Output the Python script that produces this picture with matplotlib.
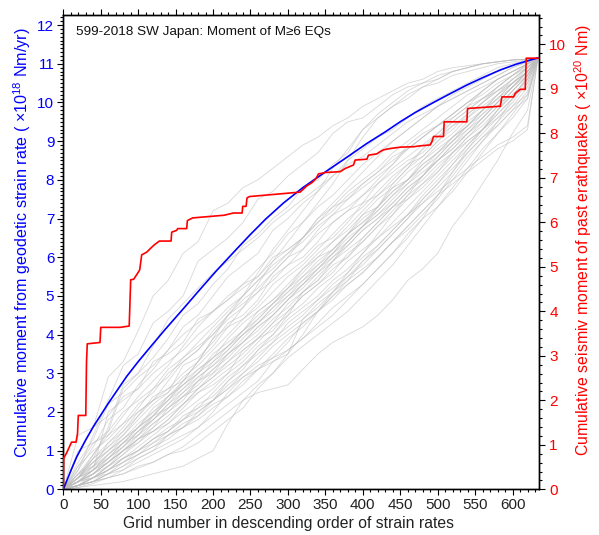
import matplotlib
matplotlib.use("Agg")
import matplotlib.pyplot as plt
from matplotlib.ticker import MultipleLocator

plt.rcParams['font.family'] = ['Liberation Sans', 'DejaVu Sans']
plt.rcParams['mathtext.default'] = 'regular'

# ---------------- data ----------------
# blue: cumulative moment from geodetic strain rate (x10^18 Nm/yr)
blue_x = [0, 5, 10, 17.9, 30, 40.1, 60, 84.7, 100, 115.9, 135.9, 160.4, 180,
          205, 230, 249.5, 270, 294, 320, 349.7, 380, 405.4, 430, 449.9, 470,
          494.5, 515, 539, 560, 583.6, 605, 628, 634]
blue_y = [0, 0.24, 0.48, 0.84, 1.28, 1.62, 2.22, 2.92, 3.30, 3.67, 4.13, 4.67,
          5.11, 5.66, 6.18, 6.58, 6.98, 7.40, 7.80, 8.20, 8.60, 8.94, 9.24,
          9.50, 9.74, 10.00, 10.21, 10.45, 10.64, 10.84, 10.99, 11.12, 11.15]

# red: cumulative seismic moment of past earthquakes (x10^20 Nm)
red_x = [0, 0.5, 4.5, 11, 17, 19, 20, 30, 31, 32, 49, 50, 76, 88, 90, 94, 102,
         104.7, 111.4, 118.0, 121.2, 128.3, 143.9, 144.8, 151.4, 152.8, 164.8,
         165.7, 172.8, 214.7, 227.2, 238.8, 239.6, 244.1, 245.4, 248.6, 316.3,
         320.8, 325.2, 331.9, 337.7, 340.8, 344.4, 349.7, 369.8, 376.4, 387.6,
         389.8, 405.4, 407.6, 418.8, 423.2, 427.7, 436.6, 450.0, 467.7, 476.7,
         490.0, 492.2, 494.5, 507.8, 508.7, 539.0, 539.9, 583.6, 585.8, 601.4,
         603.6, 610.3, 617.0, 618.3, 634]
red_y = [0, 0.70, 0.82, 1.06, 1.06, 1.26, 1.66, 1.66, 2.87, 3.27, 3.30, 3.64,
         3.64, 3.67, 4.71, 4.72, 4.93, 5.27, 5.33, 5.44, 5.49, 5.58, 5.58, 5.78,
         5.82, 5.86, 5.86, 6.04, 6.10, 6.16, 6.21, 6.21, 6.36, 6.36, 6.55, 6.58,
         6.68, 6.75, 6.82, 6.89, 6.99, 7.09, 7.10, 7.12, 7.14, 7.21, 7.29, 7.40,
         7.42, 7.51, 7.54, 7.59, 7.63, 7.66, 7.69, 7.70, 7.72, 7.74, 7.81, 7.93,
         7.93, 8.26, 8.26, 8.56, 8.61, 8.82, 8.82, 8.90, 8.99, 8.99, 9.69, 9.69]

# grey: randomized cumulative curves (x10^18 Nm/yr), sampled on grey_x
grey_x = [0, 20, 40, 60, 80, 100, 120, 140, 160, 180, 200,
          220, 240, 260, 280, 300, 320, 340, 360, 380, 400, 420,
          440, 460, 480, 500, 520, 540, 560, 580, 600, 620, 634]
grey_lines = [
    [0, 0.9, 1.6, 2.9, 3.3, 4.1, 5.0, 5.4, 6.1, 6.4, 7.2,
     7.4, 7.8, 8.0, 8.3, 8.6, 8.9, 9.1, 9.4, 9.6, 9.9, 10.1,
     10.3, 10.5, 10.6, 10.8, 10.9, 10.95, 11.0, 11.05, 11.1, 11.12, 11.15],
    [0, 0.5, 1.4, 2.3, 3.2, 3.5, 4.3, 4.6, 5.0, 5.9, 6.2,
     6.5, 6.9, 7.5, 7.7, 8.1, 8.4, 8.7, 9.2, 9.5, 9.6, 9.9,
     10.2, 10.4, 10.5, 10.6, 10.8, 10.9, 11.0, 11.05, 11.1, 11.12, 11.15],
    [0, 0.3, 0.9, 1.5, 2.6, 3.0, 3.4, 3.9, 4.5, 4.8, 5.3,
     5.7, 6.3, 6.6, 7.0, 7.3, 7.8, 8.0, 8.4, 8.7, 9.3, 9.6,
     9.9, 10.1, 10.4, 10.5, 10.7, 10.8, 10.9, 11.0, 11.05, 11.1, 11.15],
    [0, 1.4, 1.6, 1.9, 2.4, 2.6, 3.3, 3.5, 3.8, 4.4, 4.6,
     4.9, 5.3, 5.5, 6.0, 6.2, 6.5, 7.0, 7.3, 7.5, 7.9, 8.2,
     8.6, 8.8, 9.1, 9.4, 9.6, 9.9, 10.1, 10.3, 10.6, 10.9, 11.15],
    [0, 0.2, 0.5, 0.9, 1.3, 1.6, 1.9, 2.4, 2.7, 3.0, 3.5,
     3.8, 4.1, 4.6, 4.9, 5.2, 5.7, 6.0, 6.2, 6.6, 7.1, 7.3,
     7.8, 8.0, 8.5, 8.8, 9.1, 9.5, 9.8, 10.2, 10.5, 10.9, 11.15],
    [0, 0.1, 0.2, 0.4, 0.5, 0.7, 0.9, 1.1, 1.3, 1.6, 2.0,
     2.5, 2.9, 3.2, 3.4, 3.8, 4.3, 4.6, 5.0, 5.4, 5.9, 6.2,
     6.6, 7.0, 7.5, 7.9, 8.4, 8.8, 9.2, 9.6, 10.0, 10.5, 11.15],
    [0, 0.05, 0.1, 0.15, 0.2, 0.3, 0.4, 0.5, 0.6, 0.8, 1.0,
     1.7, 2.3, 2.5, 2.6, 2.7, 3.1, 3.5, 3.8, 4.0, 4.2, 4.5,
     4.9, 5.4, 5.7, 6.1, 6.8, 7.3, 7.9, 8.5, 9.2, 9.8, 11.15],
    [0, 0.2, 0.4, 0.7, 1.0, 1.2, 1.5, 1.8, 2.2, 2.5, 2.8,
     3.1, 3.4, 3.8, 4.2, 4.5, 4.8, 5.2, 5.5, 5.9, 6.2, 6.5,
     6.8, 7.1, 7.4, 7.7, 8.0, 8.3, 8.6, 8.9, 9.1, 9.4, 11.15],
    [0, 0.4, 0.6, 1.2, 1.5, 2.0, 2.3, 2.5, 3.2, 3.4, 3.8,
     4.3, 4.5, 4.9, 5.5, 5.8, 6.0, 6.4, 6.9, 7.2, 7.4, 7.9,
     8.2, 8.5, 8.7, 9.1, 9.4, 9.6, 10.0, 10.3, 10.5, 10.8, 11.15],
    [0, 0.1, 0.3, 0.6, 0.9, 1.3, 1.5, 1.7, 2.1, 2.5, 2.7,
     3.0, 3.6, 3.9, 4.1, 4.6, 5.0, 5.3, 5.6, 6.1, 6.4, 6.8,
     7.2, 7.6, 7.9, 8.2, 8.7, 9.1, 9.4, 9.8, 10.2, 10.6, 11.15],
    [0, 0.3, 0.8, 1.1, 1.4, 1.9, 2.4, 2.6, 3.0, 3.3, 3.9,
     4.2, 4.4, 4.8, 5.3, 5.6, 5.9, 6.3, 6.5, 6.9, 7.4, 7.6,
     8.0, 8.4, 8.6, 9.0, 9.3, 9.7, 10.0, 10.4, 10.7, 11.0, 11.15],
    [0, 0.1, 0.2, 0.3, 0.5, 0.8, 1.0, 1.4, 1.6, 1.9, 2.3,
     2.8, 3.1, 3.6, 4.0, 4.5, 5.1, 5.4, 5.9, 6.4, 6.8, 7.3,
     7.9, 8.3, 8.8, 9.2, 9.6, 9.9, 10.3, 10.6, 10.8, 11.0, 11.15],
    [0, 0.6, 1.0, 1.3, 1.7, 2.2, 2.5, 3.0, 3.3, 3.6, 4.1,
     4.5, 4.8, 5.1, 5.6, 6.0, 6.2, 6.7, 7.1, 7.3, 7.6, 8.0,
     8.4, 8.9, 9.2, 9.4, 9.7, 10.0, 10.2, 10.5, 10.7, 10.9, 11.15],
    [0, 0.2, 0.4, 0.8, 1.2, 1.4, 1.7, 2.0, 2.3, 2.8, 3.0,
     3.3, 3.7, 4.0, 4.4, 4.7, 5.1, 5.4, 5.8, 6.0, 6.5, 6.9,
     7.3, 7.5, 7.8, 8.2, 8.6, 9.0, 9.3, 9.7, 10.1, 10.5, 11.15],
    [0, 0.1, 0.3, 0.4, 0.7, 0.9, 1.2, 1.4, 1.7, 1.9, 2.2,
     2.4, 2.7, 3.1, 3.3, 3.6, 3.9, 4.3, 4.7, 5.0, 5.3, 5.7,
     6.1, 6.6, 7.0, 7.3, 7.7, 8.2, 8.7, 9.2, 9.6, 10.1, 11.15],
    [0, 0.5, 1.1, 1.8, 2.1, 2.7, 3.1, 3.6, 4.2, 4.5, 5.0,
     5.5, 5.8, 6.1, 6.7, 7.0, 7.4, 7.7, 8.1, 8.5, 8.8, 9.1,
     9.3, 9.6, 9.9, 10.1, 10.3, 10.5, 10.7, 10.9, 11.0, 11.1, 11.15],
    [0, 0.2, 0.6, 0.8, 1.1, 1.5, 1.8, 2.2, 2.6, 2.9, 3.2,
     3.6, 4.0, 4.3, 4.7, 5.0, 5.4, 5.8, 6.1, 6.6, 6.9, 7.2,
     7.6, 8.0, 8.3, 8.6, 9.0, 9.3, 9.7, 10.0, 10.4, 10.8, 11.15],
    [0, 0.3, 0.5, 0.7, 1.0, 1.3, 1.6, 2.1, 2.4, 2.6, 3.0,
     3.5, 3.8, 4.2, 4.5, 4.9, 5.3, 5.7, 6.0, 6.4, 6.8, 7.1,
     7.5, 7.9, 8.2, 8.5, 8.9, 9.2, 9.5, 9.9, 10.3, 10.7, 11.15],
    [0, 0.1, 0.3, 0.5, 0.8, 1.0, 1.3, 1.5, 1.8, 2.2, 2.4,
     2.8, 3.2, 3.5, 3.8, 4.3, 4.6, 4.9, 5.3, 5.6, 6.0, 6.3,
     6.7, 7.1, 7.6, 8.0, 8.4, 8.9, 9.3, 9.8, 10.2, 10.6, 11.15],
    [0, 0.4, 0.9, 1.4, 1.9, 2.4, 2.8, 3.2, 3.7, 4.2, 4.6,
     5.0, 5.3, 5.7, 6.1, 6.6, 6.9, 7.3, 7.6, 8.0, 8.4, 8.7,
     9.0, 9.3, 9.6, 9.9, 10.1, 10.3, 10.5, 10.7, 10.9, 11.05, 11.15],
    [0, 0.3, 0.7, 1.0, 1.3, 1.7, 2.0, 2.3, 2.7, 3.1, 3.4,
     3.7, 4.1, 4.4, 4.8, 5.2, 5.5, 5.9, 6.2, 6.6, 6.9, 7.3,
     7.7, 8.0, 8.4, 8.7, 9.1, 9.4, 9.8, 10.1, 10.5, 10.8, 11.15],
    [0, 0.05, 0.15, 0.3, 0.4, 0.55, 0.7, 0.9, 1.1, 1.4, 1.7,
     2.0, 2.3, 2.7, 3.0, 3.4, 3.7, 4.0, 4.3, 4.6, 5.0, 5.4,
     5.8, 6.3, 6.8, 7.3, 7.8, 8.3, 8.8, 9.2, 9.7, 10.2, 11.15],
    [0, 0.4, 0.8, 1.2, 1.6, 2.1, 2.6, 2.9, 3.4, 3.8, 4.2,
     4.6, 5.0, 5.4, 5.8, 6.1, 6.5, 6.9, 7.3, 7.7, 8.0, 8.3,
     8.7, 9.0, 9.3, 9.6, 9.9, 10.2, 10.4, 10.6, 10.8, 11.0, 11.15],
    [0, 0.2, 0.5, 0.9, 1.2, 1.5, 1.9, 2.1, 2.5, 2.8, 3.3,
     3.6, 4.0, 4.3, 4.7, 5.1, 5.4, 5.7, 6.1, 6.4, 6.8, 7.2,
     7.6, 7.9, 8.3, 8.7, 9.0, 9.4, 9.7, 10.1, 10.4, 10.8, 11.15],
    [0, 0.2, 0.5, 0.8, 1.2, 1.6, 2.0, 2.4, 2.8, 3.3, 3.7,
     4.2, 4.7, 5.3, 5.9, 6.4, 6.9, 7.4, 7.9, 8.5, 9.1, 9.6,
     9.9, 10.2, 10.4, 10.6, 10.8, 10.9, 11.0, 11.05, 11.1, 11.12, 11.15],
    [0, 0.1, 0.3, 0.6, 0.8, 1.1, 1.4, 1.7, 2.0, 2.3, 2.6,
     3.0, 3.3, 3.7, 4.0, 4.4, 4.7, 5.0, 5.4, 5.7, 6.1, 6.5,
     6.9, 7.3, 7.7, 8.1, 8.5, 8.9, 9.3, 9.7, 10.1, 10.6, 11.15],
    [0, 0.7, 1.3, 2.2, 2.5, 2.9, 3.2, 3.6, 4.0, 4.3, 4.6,
     4.9, 5.2, 5.5, 5.9, 6.2, 6.5, 6.9, 7.2, 7.6, 7.9, 8.2,
     8.5, 8.8, 9.1, 9.4, 9.7, 10.0, 10.3, 10.6, 10.8, 11.0, 11.15],
    [0, 0.1, 0.2, 0.4, 0.6, 0.8, 1.0, 1.2, 1.4, 1.6, 1.9,
     2.2, 2.5, 2.8, 3.3, 3.5, 4.4, 4.7, 5.1, 5.4, 5.7, 6.0,
     6.4, 6.7, 7.1, 7.5, 8.0, 8.5, 9.0, 9.5, 10.1, 10.7, 11.15],
    [0, 0.2, 0.4, 0.7, 1.1, 1.4, 1.8, 2.2, 2.5, 2.9, 3.2,
     3.5, 3.9, 4.3, 4.6, 5.0, 5.3, 5.7, 6.1, 6.5, 6.8, 7.1,
     7.4, 7.8, 8.1, 8.5, 8.9, 9.3, 9.6, 10.0, 10.4, 10.7, 11.15],
    [0, 0.3, 0.6, 1.0, 1.4, 1.8, 2.2, 2.5, 2.9, 3.2, 3.6,
     4.0, 4.4, 4.7, 5.1, 5.5, 5.8, 6.2, 6.6, 7.0, 7.3, 7.7,
     8.1, 8.4, 8.8, 9.1, 9.5, 9.8, 10.1, 10.4, 10.7, 10.95, 11.15],
    [0, 0.1, 0.2, 0.5, 0.7, 0.9, 1.1, 1.4, 1.6, 2.0, 2.3,
     2.6, 3.0, 3.3, 3.7, 4.0, 4.3, 4.6, 5.0, 5.3, 5.6, 6.0,
     6.4, 6.8, 7.2, 7.6, 8.1, 8.6, 9.0, 9.4, 9.8, 10.3, 11.15],
    [0, 0.6, 1.2, 1.5, 2.0, 2.3, 2.6, 3.1, 3.4, 3.7, 4.0,
     4.4, 4.7, 5.1, 5.4, 5.8, 6.2, 6.6, 6.9, 7.2, 7.6, 7.9,
     8.3, 8.6, 8.9, 9.2, 9.5, 9.8, 10.1, 10.4, 10.7, 11.0, 11.15],
    [0, 0.2, 0.3, 0.6, 0.9, 1.2, 1.6, 1.9, 2.2, 2.6, 2.9,
     3.3, 3.6, 3.9, 4.3, 4.6, 5.0, 5.3, 5.7, 6.0, 6.4, 6.8,
     7.1, 7.5, 7.9, 8.3, 8.7, 9.1, 9.5, 9.9, 10.3, 10.7, 11.15],
    [0, 0.3, 0.7, 1.1, 1.5, 1.9, 2.3, 2.8, 3.3, 3.6, 4.0,
     4.5, 4.9, 5.2, 5.6, 6.0, 6.5, 7.0, 7.4, 7.8, 8.2, 8.6,
     9.0, 9.3, 9.6, 9.9, 10.2, 10.4, 10.6, 10.8, 10.95, 11.05, 11.15],
    [0, 0.2, 0.4, 0.6, 1.0, 1.3, 1.7, 2.0, 2.4, 2.7, 3.1,
     3.4, 3.8, 4.1, 4.5, 4.9, 5.2, 5.6, 5.9, 6.3, 6.7, 7.0,
     7.4, 7.8, 8.1, 8.5, 8.8, 9.2, 9.6, 10.0, 10.4, 10.8, 11.15],
    [0, 0.1, 0.3, 0.5, 0.7, 1.0, 1.2, 1.5, 1.9, 2.1, 2.5,
     2.9, 3.2, 3.6, 3.9, 4.2, 4.5, 4.9, 5.2, 5.5, 5.8, 6.2,
     6.6, 7.0, 7.4, 7.8, 8.2, 8.7, 9.1, 9.4, 9.8, 10.1, 11.15],
    [0, 0.2, 0.5, 2.0, 2.3, 2.6, 3.0, 3.3, 3.6, 4.0, 4.3,
     4.7, 5.0, 5.4, 5.7, 6.1, 6.4, 6.8, 7.1, 7.5, 7.8, 8.1,
     8.4, 8.8, 9.1, 9.4, 9.7, 10.0, 10.3, 10.6, 10.8, 11.0, 11.15],
    [0, 0.1, 0.2, 0.3, 0.4, 0.6, 0.7, 0.9, 1.0, 1.2, 1.5,
     1.8, 2.1, 2.6, 3.0, 3.5, 4.0, 4.6, 5.1, 5.6, 6.1, 6.6,
     7.1, 7.6, 8.1, 8.6, 9.0, 9.4, 9.8, 10.2, 10.5, 10.8, 11.15],
    [0, 0.3, 0.5, 0.8, 1.1, 1.5, 1.8, 2.1, 2.4, 2.8, 3.1,
     3.5, 3.8, 4.2, 4.5, 4.9, 5.3, 5.6, 6.0, 6.3, 6.7, 7.0,
     7.3, 7.7, 8.0, 8.4, 8.7, 9.0, 9.3, 9.6, 9.9, 10.2, 11.15],
    [0, 0.2, 0.4, 0.7, 1.0, 1.4, 1.9, 2.3, 2.8, 3.3, 3.9,
     4.5, 5.0, 5.6, 6.2, 6.7, 7.2, 7.7, 8.3, 8.8, 9.3, 9.7,
     10.0, 10.3, 10.5, 10.7, 10.8, 10.9, 11.0, 11.05, 11.1, 11.12, 11.15],
    [0, 0.2, 0.3, 0.5, 0.8, 1.0, 1.3, 1.6, 1.8, 2.1, 2.3,
     2.6, 2.9, 3.1, 3.4, 3.6, 3.9, 4.2, 4.5, 4.9, 5.3, 5.7,
     6.1, 6.5, 7.0, 7.6, 8.2, 8.8, 9.3, 9.8, 10.3, 10.7, 11.15],
    [0, 0.4, 0.7, 1.0, 1.3, 1.6, 2.1, 2.4, 2.7, 3.0, 3.4,
     3.9, 4.3, 4.6, 4.9, 5.3, 5.7, 6.1, 6.4, 6.8, 7.2, 7.6,
     7.9, 8.3, 8.6, 9.0, 9.4, 9.7, 10.0, 10.3, 10.6, 10.9, 11.15],
    [0, 0.3, 0.8, 1.6, 2.7, 3.0, 3.7, 4.4, 4.8, 5.2, 5.6,
     5.9, 6.2, 6.5, 6.9, 7.2, 7.5, 7.8, 8.1, 8.4, 8.6, 8.9,
     9.2, 9.5, 9.7, 9.9, 10.1, 10.3, 10.5, 10.7, 10.9, 11.05, 11.15],
    [0, 0.1, 0.4, 0.7, 1.0, 1.3, 1.5, 1.8, 2.2, 2.6, 2.9,
     3.2, 3.5, 3.9, 4.3, 4.8, 5.1, 5.5, 5.9, 6.2, 6.5, 6.9,
     7.3, 7.7, 8.1, 8.5, 8.8, 9.2, 9.6, 10.0, 10.4, 10.8, 11.15],
    [0, 0.1, 0.2, 0.4, 0.6, 0.9, 1.1, 1.3, 1.6, 1.8, 2.1,
     2.4, 2.8, 3.1, 3.5, 3.9, 4.2, 4.6, 4.9, 5.3, 5.6, 6.0,
     6.4, 6.8, 7.2, 7.6, 7.9, 8.2, 8.5, 8.8, 9.0, 9.3, 11.15],
    [0, 0.3, 0.6, 0.9, 1.2, 1.6, 1.9, 2.3, 2.6, 3.0, 3.3,
     3.7, 4.1, 4.5, 4.8, 5.2, 5.6, 6.0, 6.4, 6.7, 7.1, 7.5,
     7.8, 8.2, 8.5, 8.9, 9.2, 9.6, 9.9, 10.2, 10.6, 10.9, 11.15],
    [0, 1.0, 1.2, 1.4, 1.7, 2.0, 2.3, 2.6, 2.8, 3.1, 3.4,
     3.7, 4.0, 4.4, 4.8, 5.1, 5.5, 5.8, 6.2, 6.6, 7.0, 7.3,
     7.7, 8.0, 8.4, 8.7, 9.1, 9.4, 9.8, 10.1, 10.5, 10.8, 11.15],
    [0, 0.1, 0.3, 0.5, 0.8, 1.0, 1.3, 1.5, 1.8, 2.0, 2.3,
     2.7, 3.0, 3.4, 3.8, 4.1, 4.4, 4.8, 5.1, 5.5, 5.9, 6.3,
     6.7, 7.1, 7.5, 7.9, 8.3, 8.7, 9.1, 9.5, 9.9, 10.4, 11.15],
]

title_text = "599-2018 SW Japan: Moment of M\u22656 EQs"
xlabel_text = "Grid number in descending order of strain rates"
ylabel_left = "Cumulative moment from geodetic strain rate ( \u00d710$^{18}$ Nm/yr)"
ylabel_right = "Cumulative seismiv moment of past erathquakes ( \u00d710$^{20}$ Nm)"

# ---------------- figure ----------------
fig = plt.figure(figsize=(5.99, 5.35), dpi=100)
ax = fig.add_axes([0.1057, 0.0854, 0.7937, 0.8865])

for line in grey_lines:
    ax.plot(grey_x, line, color='#bdbdbd', lw=0.6, alpha=0.6, zorder=1)

ax.plot(blue_x, blue_y, color='#0000ff', lw=1.2, zorder=3)

ax.set_xlim(0, 635)
ax.set_ylim(0, 12.26)
ax.xaxis.set_major_locator(MultipleLocator(50))
ax.xaxis.set_minor_locator(MultipleLocator(10))
ax.yaxis.set_major_locator(MultipleLocator(1))
ax.yaxis.set_minor_locator(MultipleLocator(0.1))
ax.tick_params(which='both', direction='out', top=True, right=False, width=0.8)
ax.tick_params(which='major', length=4.5, labelsize=11, pad=2)
ax.tick_params(which='minor', length=2.2)
ax.tick_params(axis='y', labelcolor='#0000ff')
ax.tick_params(axis='x', labelcolor='#222222')
for s in ax.spines.values():
    s.set_linewidth(1.0)

ax.set_xlabel(xlabel_text, fontsize=11.3, color='#222222')
ax.xaxis.set_label_coords(0.474, -0.073)
ax.xaxis.label.set_verticalalignment('center')
ax.set_ylabel(ylabel_left, fontsize=11.6, color='#0000ff')
ax.yaxis.set_label_coords(-0.087, 0.52)
ax.yaxis.label.set_verticalalignment('center')

ax.text(0.027, 0.964, title_text, transform=ax.transAxes, fontsize=9.7,
        ha='left', va='center', color='#111111')

ax2 = ax.twinx()
ax2.plot(red_x, red_y, color='#ff0000', lw=1.2, zorder=4)
ax2.set_ylim(0, 10.66)
ax2.yaxis.set_major_locator(MultipleLocator(1))
ax2.yaxis.set_minor_locator(MultipleLocator(0.2))
ax2.tick_params(which='both', direction='out', width=0.8)
ax2.tick_params(which='major', length=4.5, labelsize=11, labelcolor='#ff0000', pad=3)
ax2.tick_params(which='minor', length=2.2)
ax2.set_ylabel(ylabel_right, fontsize=11.4, color='#ff0000', rotation=90)
ax2.yaxis.set_label_coords(1.093, 0.525)
ax2.yaxis.label.set_verticalalignment('center')
for s in ax2.spines.values():
    s.set_linewidth(1.0)

fig.savefig("out.png", dpi=100)
